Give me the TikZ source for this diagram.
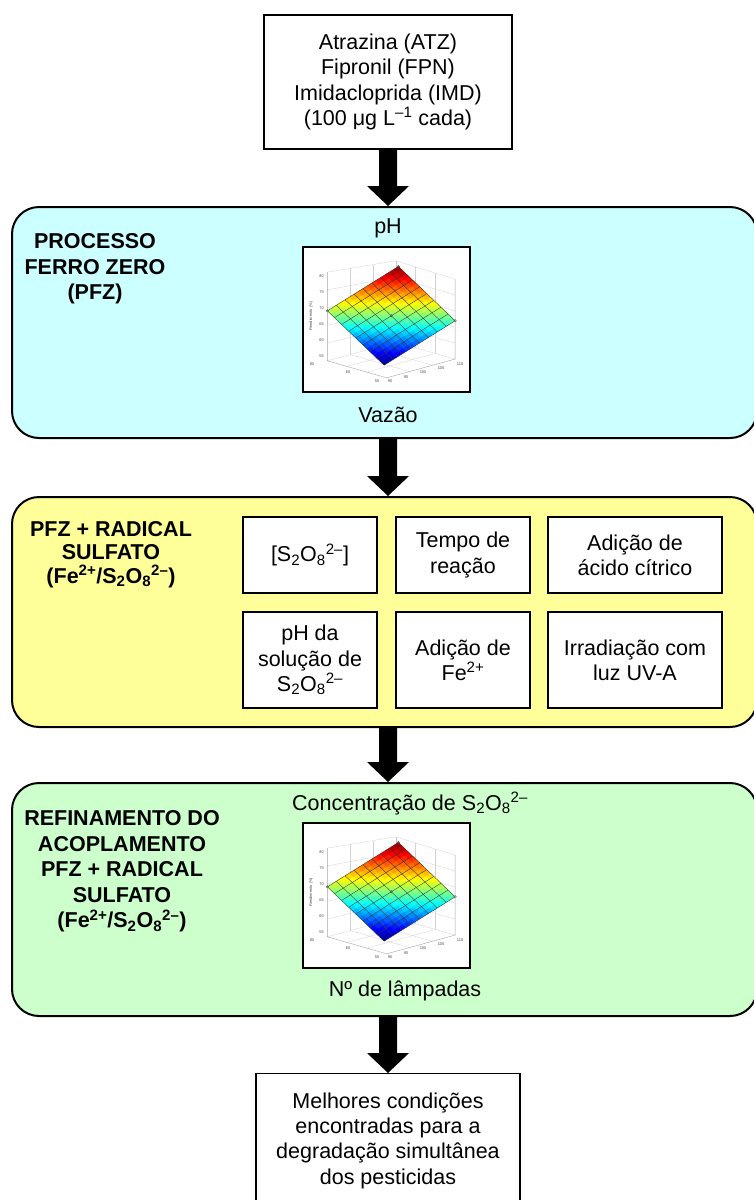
\documentclass[tikz,border=0pt]{standalone}
\usepackage{fontspec}
\setmainfont{Liberation Sans}
\usetikzlibrary{calc}
\definecolor{pfzblue}{RGB}{204,255,255}
\definecolor{sfyellow}{RGB}{255,255,153}
\definecolor{refgreen}{RGB}{204,255,204}

% block arrow between two named coordinates (y axis points down)
\newcommand{\blockarrow}[2]{%
  \fill[black] ($(#1)+(-9,0)$) -- ($(#2)+(-9,-20)$) -- ($(#2)+(-21,-20)$) -- (#2)
    -- ($(#2)+(21,-20)$) -- ($(#2)+(9,-20)$) -- ($(#1)+(9,0)$) -- cycle;}

% small surface plot, drawn inside a frame whose north west corner is #1
\newcommand{\surfplot}[2]{%
\begin{scope}[shift={(#1)}]
  % back panels and floor grid
  \foreach \t in {0,0.2,0.4,0.6,0.8,1}{%
    \draw[gray!35, line width=0.3pt] (25.3,{26+88.7*\t}) -- (93.7,{14.7+81.3*\t}) -- (153,{33+80*\t});}
  \foreach \s in {0.333,0.667}{%
    \draw[gray!35, line width=0.3pt] ({25.3+68.4*\s},{26-11.3*\s}) -- ({25.3+68.4*\s},{114.7-18.7*\s});
    \draw[gray!35, line width=0.3pt] ({93.7+59.3*\s},{14.7+18.3*\s}) -- ({93.7+59.3*\s},{96+17*\s});
    \draw[gray!35, line width=0.3pt] ({25.3+59.3*\s},{114.7+17*\s}) -- ({93.7+59.3*\s},{96+17*\s});
    \draw[gray!35, line width=0.3pt] ({93.7-68.4*\s},{96+18.7*\s}) -- ({153-68.4*\s},{113+18.7*\s});}
  \draw[gray!45, line width=0.3pt] (93.7,14.7) -- (93.7,96);
  \draw[gray!70, line width=0.4pt] (25.3,26) -- (25.3,114.7) -- (84.6,131.7) -- (153,113) -- (153,33);
  % coloured surface
  \foreach \i in {0,...,15}{%
    \foreach \j in {0,...,15}{%
      \pgfmathsetmacro{\ua}{\i/16}%
      \pgfmathsetmacro{\ub}{(\i+1)/16}%
      \pgfmathsetmacro{\va}{\j/16}%
      \pgfmathsetmacro{\vb}{(\j+1)/16}%
      \pgfmathsetmacro{\cval}{(54.3*(\i+0.5)/16+44.3*(\j+0.5)/16)/98.6}%
      \pgfmathsetmacro{\cR}{max(0,min(1,1.5-abs(4*\cval-3)))}%
      \pgfmathsetmacro{\cG}{max(0,min(1,1.5-abs(4*\cval-2)))}%
      \pgfmathsetmacro{\cB}{max(0,min(1,1.5-abs(4*\cval-1)))}%
      \definecolor{jetc}{rgb}{\cR,\cG,\cB}%
      \filldraw[fill=jetc, draw=jetc, line width=0.25pt]
        ({82-56.7*\ua+71*\va},{119-54.3*\ua-44.3*\va}) --
        ({82-56.7*\ub+71*\va},{119-54.3*\ub-44.3*\va}) --
        ({82-56.7*\ub+71*\vb},{119-54.3*\ub-44.3*\vb}) --
        ({82-56.7*\ua+71*\vb},{119-54.3*\ua-44.3*\vb}) -- cycle;}}
  \foreach \k in {0,...,8}{%
    \pgfmathsetmacro{\gw}{\k/8}%
    \draw[black!80, line width=0.35pt] ({82-56.7*\gw},{119-54.3*\gw}) -- ({82-56.7*\gw+71},{119-54.3*\gw-44.3});
    \draw[black!80, line width=0.35pt] ({82+71*\gw},{119-44.3*\gw}) -- ({82+71*\gw-56.7},{119-44.3*\gw-54.3});}
  \foreach \px/\py in {96.3/20.4, 25.3/64.7, 153/74.7, 89.2/69.7}{%
    \draw[gray!60!black, line width=0.3pt] (\px,\py) circle (1.3pt);}
  % tick labels
  \foreach \v/\yy in {80/29.7, 75/46, 70/62, 65/78, 60/94.5, 55/110}{%
    \node[ticklbl, anchor=east] (#2z\v) at (22,\yy) {\v};}
  \node[ticklbl, rotate=90] (#2yl) at (9,70) {Rendimento (\%)};
  \foreach \v/\xx/\yy in {80/10/118, 60/46/126, 55/75/135.5}{%
    \node[ticklbl] (#2a\v) at (\xx,\yy) {\v};}
  \foreach \v/\xx/\yy in {90/88/135.5, 95/104/131, 100/121/126.5, 105/139/122, 110/158/118}{%
    \node[ticklbl] (#2b\v) at (\xx,\yy) {\v};}
\end{scope}}

\begin{document}
\begin{tikzpicture}[x=1pt, y=-1pt,
  every node/.style={font=\fontsize{21.5}{25.3}\selectfont},
  stage/.style={draw, line width=2pt, rounded corners=27pt, minimum width=745pt, inner sep=0pt},
  boxw/.style={draw, fill=white, line width=1.3pt, align=center, inner sep=0pt},
  plotframe/.style={draw, fill=white, line width=1.8pt, minimum width=167pt, minimum height=145pt, inner sep=0pt},
  stagelabel/.style={font=\bfseries\fontsize{21.5}{25.5}\selectfont, align=center, inner sep=0pt},
  plain/.style={inner sep=0pt},
  ticklbl/.style={font=\fontsize{4}{4}\selectfont, text=gray!60!black, inner sep=0pt}]
\useasboundingbox (0,0) rectangle (753,1200);
\fill[white] (0,0) rectangle (753,1200);

\coordinate (ax) at (388,0);

% top box
\node[boxw, minimum width=248pt, minimum height=134pt] (top) at (388,82)
  {Atrazina (ATZ)\\Fipronil (FPN)\\Imidacloprida (IMD)\\(100 μg L\textsuperscript{–1} cada)};

% stage 1: PFZ
\node[stage, fill=pfzblue, minimum height=231pt] (pfz) at (384.5,322.5) {};
\node[stagelabel] (pfzl) at (95,269) {PROCESSO\\FERRO ZERO\\(PFZ)};
\node[plain, anchor=base] (ph) at (388,233) {pH};
\node[plotframe] (plot1) at (386.5,319.5) {};
\surfplot{plot1.north west}{pa}
\node[plain, anchor=base] (vaz) at (388,422) {Vazão};

% stage 2: PFZ + radical sulfato
\node[stage, fill=sfyellow, minimum height=230pt] (sf) at (384.5,612) {};
\node[stagelabel, font=\bfseries\fontsize{21.5}{23.5}\selectfont] (sfl) at (111,554.5)
  {PFZ + RADICAL\\SULFATO\\(Fe\textsuperscript{2+}/S\textsubscript{2}O\textsubscript{8}\textsuperscript{2–})};
\node[boxw, minimum width=134pt, minimum height=76pt] (b1) at (310,555)
  {[S\textsubscript{2}O\textsubscript{8}\textsuperscript{2–}]};
\node[boxw, minimum width=134pt, minimum height=76pt] (b2) at (463,555) {Tempo de\\reação};
\node[boxw, minimum width=174pt, minimum height=76pt] (b3) at (635,555) {Adição de\\ácido cítrico};
\node[boxw, minimum width=134pt, minimum height=96pt] (b4) at (310,660)
  {pH da\\solução de\\S\textsubscript{2}O\textsubscript{8}\textsuperscript{2–}};
\node[boxw, minimum width=134pt, minimum height=96pt] (b5) at (463,660) {Adição de\\Fe\textsuperscript{2+}};
\node[boxw, minimum width=174pt, minimum height=96pt] (b6) at (635,660) {Irradiação com\\luz UV-A};

% stage 3: refinement
\node[stage, fill=refgreen, minimum height=233pt] (ref) at (384.5,899.5) {};
\node[stagelabel] (refl) at (122,871.5)
  {REFINAMENTO DO\\ACOPLAMENTO\\PFZ + RADICAL\\SULFATO\\(Fe\textsuperscript{2+}/S\textsubscript{2}O\textsubscript{8}\textsuperscript{2–})};
\node[plain, anchor=base west] (conc) at (292,810)
  {Concentração de S\textsubscript{2}O\textsubscript{8}\textsuperscript{2–}};
\node[plotframe] (plot2) at (386.5,895.5) {};
\surfplot{plot2.north west}{pb}
\node[plain, anchor=base] (lamp) at (405,996) {Nº de lâmpadas};

% final box
\node[boxw, anchor=north, minimum width=264pt, inner ysep=19pt] (fin) at (388,1073)
  {Melhores condições\\encontradas para a\\degradação simultânea\\dos pesticidas};

% block arrows
\coordinate (a1s) at (top.south);
\coordinate (a1e) at (top.south |- pfz.north);
\coordinate (a2s) at (ax |- pfz.south);
\coordinate (a2e) at (ax |- sf.north);
\coordinate (a3s) at (ax |- sf.south);
\coordinate (a3e) at (ax |- ref.north);
\coordinate (a4s) at (ax |- ref.south);
\coordinate (a4e) at (fin.north);
\blockarrow{a1s}{a1e}
\blockarrow{a2s}{a2e}
\blockarrow{a3s}{a3e}
\blockarrow{a4s}{a4e}
\end{tikzpicture}
\end{document}
